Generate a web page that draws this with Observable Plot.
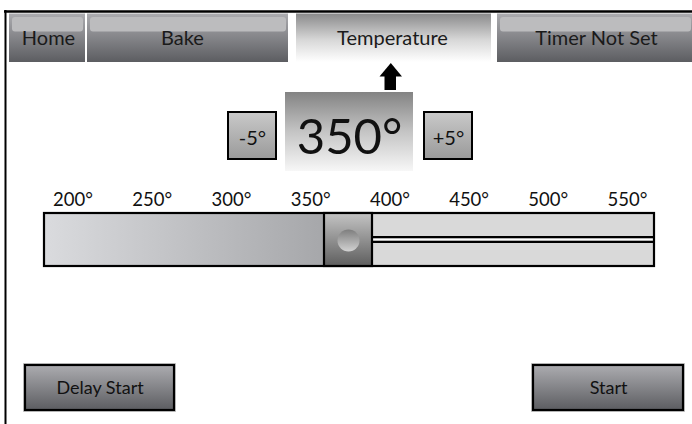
<!DOCTYPE html>
<html><head><meta charset="utf-8">
<script src="https://cdn.jsdelivr.net/npm/d3@7"></script>
<script src="https://cdn.jsdelivr.net/npm/@observablehq/plot@0.6"></script>
<style>body{margin:0;background:#fff}</style>
</head><body><div id="chart"></div>
<script>
// ---------- data ----------
const tempTicks = [200, 250, 300, 350, 400, 450, 500, 550];
const currentTemp = 350;
const stepLabels = ["-5°", "+5°"];
const tabLabels = ["Home", "Bake", "Temperature", "Timer Not Set"];
const activeTab = "Temperature";
const actionLabels = ["Delay Start", "Start"];

// ---------- layout (pixels) ----------
const W = 692, H = 424;
const FONT = "Lato, 'Open Sans', sans-serif";
const tabX = [[9, 85], [87, 288], [296, 491], [497, 693]];
const tabTop = 13.5, tabBottom = 62;
const tabTextX = [48, 182, 392, 596];
const stepX = [[228, 276], [424, 472]];
const stepY = [112, 159];
const display = {x1: 285, x2: 413, y1: 92, y2: 171};
const track = {x1: 44, x2: 654, y1: 213, y2: 266};
const thumb = {x1: 324, x2: 372};
const actionX = [[25, 174], [533, 683]];
const actionY = [365, 410];

const tempScale = Plot.scale({x: {domain: [200, 550], range: [72.5, 627]}});

const tabs = tabLabels.map((t, i) => ({label: t, x1: tabX[i][0], x2: tabX[i][1], cx: tabTextX[i], active: t === activeTab}));
const steps = stepLabels.map((t, i) => ({label: t, x1: stepX[i][0], x2: stepX[i][1]}));
const actions = actionLabels.map((t, i) => ({label: t, x1: actionX[i][0], x2: actionX[i][1]}));
const thumbCx = (thumb.x1 + thumb.x2) / 2;
const trackMid = (track.y1 + track.y2) / 2;

const chart = Plot.plot({
  width: W, height: H, margin: 0,
  x: {domain: [0, W], range: [0, W], axis: null},
  y: {domain: [0, H], range: [0, H], axis: null},
  style: {background: "#fff", fontFamily: FONT, color: "#111"},
  marks: [
    // tabs
    Plot.rect(tabs, {x1: "x1", x2: "x2", y1: tabTop, y2: tabBottom,
      fill: d => d.active ? "url(#gActive)" : "url(#gTab)"}),
    Plot.rect(tabs.filter(d => !d.active), {x1: d => d.x1 + 3, x2: d => d.x2 - 2, y1: 17, y2: 31.5, fill: "#bcbcbe", rx: 3}),
    Plot.text(tabs, {x: "cx", y: 44, text: "label", fontSize: 20, lineAnchor: "bottom", fill: "#1a1a1a"}),
    // frame
    Plot.ruleY([11], {x1: 4, x2: W, stroke: "#000", strokeWidth: 2.5}),
    Plot.ruleX([5], {y1: 10, y2: H, stroke: "#000", strokeWidth: 2}),
    // arrow
    Plot.rect([0], {x1: 384.5, x2: 396, y1: 75, y2: 90, fill: "#000"}),
    Plot.line([[379, 76], [390.3, 62.5], [401.5, 76]], {x: d => d[0], y: d => d[1], fill: "#000", stroke: "none"}),
    // display
    Plot.rect([display], {x1: "x1", x2: "x2", y1: "y1", y2: "y2", fill: "url(#gDisplay)"}),
    Plot.text([currentTemp], {x: (display.x1 + display.x2) / 2, y: 153, text: d => d + "°", fontSize: 49, lineAnchor: "bottom", fill: "#111"}),
    // step buttons
    Plot.rect(steps, {x1: "x1", x2: "x2", y1: stepY[0], y2: stepY[1], fill: "url(#gStep)", stroke: "#000", strokeWidth: 2}),
    Plot.text(steps, {x: d => (d.x1 + d.x2) / 2, y: 144, text: "label", fontSize: 20, lineAnchor: "bottom", fill: "#111"}),
    // tick labels
    Plot.text(tempTicks, {x: d => tempScale.apply(d), y: 205, text: d => d + "°", fontSize: 18.5, lineAnchor: "bottom", fill: "#111"}),
    // track
    Plot.rect([track], {x1: "x1", x2: "x2", y1: "y1", y2: "y2", fill: "#d9d9d9"}),
    Plot.rect([track], {x1: "x1", x2: thumb.x1, y1: "y1", y2: "y2", fill: "url(#gFill)"}),
    Plot.rect([track], {x1: thumb.x2, x2: "x2", y1: trackMid - 3.5, y2: trackMid + 3.5, fill: "#000"}),
    Plot.rect([track], {x1: thumb.x2, x2: d => d.x2 - 1, y1: trackMid - 1.2, y2: trackMid + 1.2, fill: "#fff"}),
    Plot.rect([track], {x1: "x1", x2: "x2", y1: "y1", y2: "y2", fill: "none", stroke: "#000", strokeWidth: 2.2}),
    // thumb
    Plot.rect([thumb], {x1: "x1", x2: "x2", y1: track.y1, y2: track.y2, fill: "url(#gThumb)", stroke: "#000", strokeWidth: 2.2}),
    Plot.dot([thumb], {x: thumbCx, y: trackMid + 0.5, r: 11, fill: "url(#gKnob)", stroke: "none"}),
    // action buttons
    Plot.rect(actions, {x1: d => d.x1 - 1.5, x2: d => d.x2 + 1.5, y1: actionY[0] - 1.5, y2: actionY[1] + 1.5, fill: "none", stroke: "#c8c8c8", strokeWidth: 1}),
    Plot.rect(actions, {x1: "x1", x2: "x2", y1: actionY[0], y2: actionY[1], fill: "url(#gTab)", stroke: "#000", strokeWidth: 2.2}),
    Plot.text(actions, {x: d => (d.x1 + d.x2) / 2, y: 393, text: "label", fontSize: 18, lineAnchor: "bottom", fill: "#111"})
  ]
});

const ns = "http://www.w3.org/2000/svg";
const defs = document.createElementNS(ns, "defs");
function grad(id, stops, horizontal) {
  const g = document.createElementNS(ns, "linearGradient");
  g.setAttribute("id", id);
  g.setAttribute("x1", 0); g.setAttribute("y1", 0);
  g.setAttribute("x2", horizontal ? 1 : 0); g.setAttribute("y2", horizontal ? 0 : 1);
  for (const [o, c] of stops) {
    const s = document.createElementNS(ns, "stop");
    s.setAttribute("offset", o); s.setAttribute("stop-color", c);
    g.appendChild(s);
  }
  defs.appendChild(g);
}
grad("gTab", [[0, "#acacb0"], [1, "#5c5d61"]]);
grad("gActive", [[0, "#8a8a8b"], [0.55, "#d8d8d8"], [1, "#ffffff"]]);
grad("gDisplay", [[0, "#838383"], [0.5, "#c4c4c4"], [1, "#f7f7f7"]]);
grad("gStep", [[0, "#c9c9c9"], [1, "#9a9a9a"]]);
grad("gFill", [[0, "#dadbde"], [1, "#a6a7aa"]], true);
grad("gThumb", [[0, "#c4c4c4"], [1, "#5e5e5e"]]);
grad("gKnob", [[0, "#7e7e7e"], [1, "#d2d2d2"]]);
chart.insertBefore(defs, chart.firstChild);
document.getElementById("chart").appendChild(chart);
</script>
</body></html>
